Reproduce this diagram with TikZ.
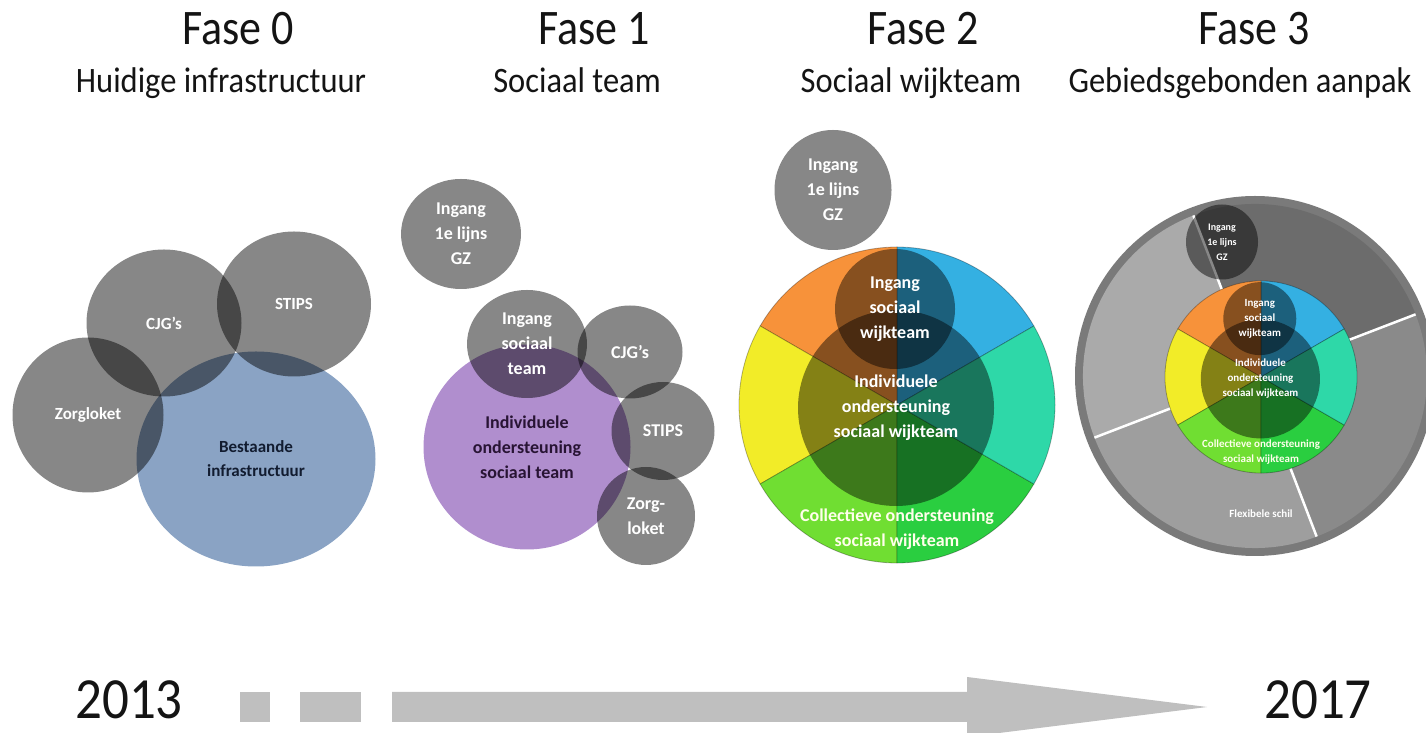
\documentclass[tikz,border=0pt]{standalone}
\usepackage{fontspec}
\setmainfont{Carlito}
\usetikzlibrary{shapes.geometric}

\definecolor{titel}{RGB}{20,20,20}
\definecolor{bestaand}{RGB}{138,163,196}
\definecolor{bestaandtekst}{RGB}{18,28,48}
\definecolor{paars}{RGB}{176,142,206}
\definecolor{paarstekst}{RGB}{40,20,52}
\definecolor{wblauw}{RGB}{52,176,226}
\definecolor{woranje}{RGB}{247,146,58}
\definecolor{wgeel}{RGB}{242,236,40}
\definecolor{wlichtgroen}{RGB}{112,222,50}
\definecolor{wgroen}{RGB}{42,206,64}
\definecolor{wturkoois}{RGB}{46,216,168}
\definecolor{rand3}{RGB}{122,122,122}
\definecolor{vak1}{RGB}{108,108,108}
\definecolor{vak2}{RGB}{170,170,170}
\definecolor{vak3}{RGB}{158,158,158}
\definecolor{vak4}{RGB}{138,138,138}
\definecolor{pijl}{RGB}{191,191,191}

\tikzstyle{fase}=[anchor=base, inner sep=0pt, yscale=1.13, text=titel, font=\fontsize{44}{50}\selectfont]
\tikzstyle{subtitel}=[anchor=base, inner sep=0pt, yscale=1.1, text=titel, font=\fontsize{32.5}{38}\selectfont]
\tikzstyle{jaar}=[anchor=base, inner sep=0pt, yscale=1.1, text=titel, font=\fontsize{53}{60}\selectfont]
\tikzstyle{kern}=[ellipse, inner sep=0pt, align=center, font=\bfseries\fontsize{17}{24}\selectfont]
\tikzstyle{bubble}=[ellipse, inner sep=0pt, fill=black, fill opacity=0.47, text opacity=1, text=white, align=center, font=\bfseries\fontsize{18}{25}\selectfont]
\tikzstyle{bubble0}=[bubble, font=\bfseries\fontsize{17}{24}\selectfont]
\tikzstyle{donker}=[circle, inner sep=0pt, fill=black, fill opacity=0.45, text opacity=1, text=white, align=center, font=\bfseries\fontsize{18}{25}\selectfont]
\tikzstyle{wittekst}=[align=center, text=white!92!yellow, font=\bfseries\fontsize{18}{25}\selectfont]
\tikzstyle{wielvak}=[draw=black, draw opacity=0.3, line width=0.8pt]

% wiel van het sociaal wijkteam, #1 = prefix voor de namen
\newcommand{\wijkwiel}[1]{%
  \foreach \kleur [count=\i from 0] in {wblauw,woranje,wgeel,wlichtgroen,wgroen,wturkoois}
    \filldraw[wielvak, fill=\kleur] (0,0) -- (30+60*\i:158) arc[start angle=30+60*\i, delta angle=60, radius=158] -- cycle;
  \node[donker, minimum size=196pt] (#1-indiv) at (-1,-3) {Individuele\\ondersteuning\\sociaal wijkteam};
  \node[donker, minimum size=120pt] (#1-ingang) at (-2,96) {Ingang\\sociaal\\wijkteam};
  \node[wittekst] (#1-coll) at (0,-124) {Collectieve ondersteuning\\sociaal wijkteam};
}

\begin{document}
\begin{tikzpicture}[x=1pt, y=1pt]
    \useasboundingbox (0,0) rectangle (1426,733);
    \clip (0,0) rectangle (1426,733);

    % koppen
    \node[fase] (f0) at (238,688) {Fase 0};
    \node[fase] (f1) at (594,688) {Fase 1};
    \node[fase] (f2) at (923,688) {Fase 2};
    \node[fase] (f3) at (1254,688) {Fase 3};
    \node[subtitel] (sub0) at (221,640) {Huidige infrastructuur};
    \node[subtitel] (sub1) at (577,640) {Sociaal team};
    \node[subtitel] (sub2) at (911,640) {Sociaal wijkteam};
    \node[subtitel] (sub3) at (1240,640) {Gebiedsgebonden aanpak};

    % fase 0
    \node[kern, fill=bestaand, text=bestaandtekst, minimum width=239pt, minimum height=215pt] (best0) at (256,274) {Bestaande\\infrastructuur};
    \node[bubble0, minimum width=151pt, minimum height=155pt] (zorg0) at (88,318) {Zorgloket};
    \node[bubble0, minimum width=155pt, minimum height=147pt] (cjg0) at (164,410) {CJG's};
    \node[bubble0, minimum width=154pt, minimum height=145pt] (stips0) at (294,429) {STIPS};

    % fase 1
    \node[kern, fill=paars, text=paarstekst, font=\bfseries\fontsize{18}{25}\selectfont, minimum width=207pt, minimum height=205pt] (indiv1) at (527,286) {Individuele\\ondersteuning\\sociaal team};
    \node[bubble, minimum width=120pt, minimum height=110pt] (gz1) at (461,499) {Ingang\\1e lijns\\GZ};
    \node[bubble, minimum width=120pt, minimum height=108pt] (ing1) at (527,389) {Ingang\\sociaal\\team};
    \node[bubble, minimum width=105pt, minimum height=93pt] (cjg1) at (630,381) {CJG's};
    \node[bubble, minimum width=103pt, minimum height=98pt] (stips1) at (663,302) {STIPS};
    \node[bubble, minimum width=98pt, minimum height=98pt] (zorg1) at (646,217) {Zorg-\\loket};

    % fase 2
    \node[bubble, minimum width=117pt, minimum height=120pt] (gz2) at (833,543) {Ingang\\1e lijns\\GZ};
    \begin{scope}[shift={(897,328)}]
        \wijkwiel{w2}
    \end{scope}

    % fase 3
    \begin{scope}[shift={(1255,357)}]
        \fill[rand3] (0,0) circle[radius=180];
        \foreach \kleur [count=\i from 0] in {vak1,vak2,vak3,vak4}
            \fill[\kleur] (0,0) -- (21+90*\i:172) arc[start angle=21+90*\i, delta angle=90, radius=172] -- cycle;
        \foreach \i in {0,...,3}
            \draw[white, line width=2.5pt] (0,0) -- (21+90*\i:172);
    \end{scope}
    \node[bubble, minimum width=72pt, minimum height=75pt, font=\bfseries\fontsize{10}{15}\selectfont] (gz3) at (1222,491) {Ingang\\1e lijns\\GZ};
    \begin{scope}[shift={(1261,356)}, scale=0.608, transform shape]
        \wijkwiel{w3}
    \end{scope}
    \node[text=white, font=\bfseries\fontsize{11}{15}\selectfont] (flex) at (1261,219) {Flexibele schil};

    % tijdlijn
    \node[jaar] (j2013) at (129,14) {2013};
    \node[jaar] (j2017) at (1318,14) {2017};
    \fill[pijl] (240,11) rectangle (270,41);
    \fill[pijl] (300,11) rectangle (361,41);
    \fill[pijl] (392,11) -- (967,11) -- (967,-4) -- (1207,26) -- (967,56) -- (967,41) -- (392,41) -- cycle;
\end{tikzpicture}
\end{document}
